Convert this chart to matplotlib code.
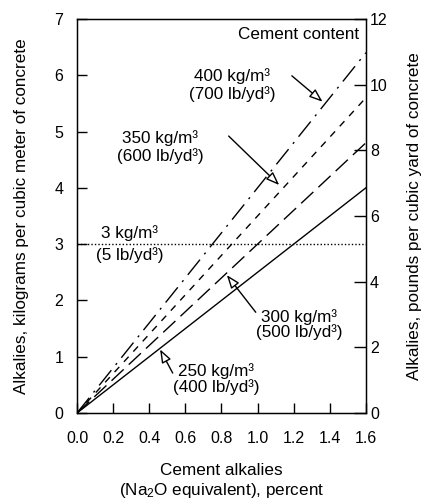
import matplotlib
matplotlib.use("Agg")
import matplotlib.pyplot as plt
import numpy as np

plt.rcParams['font.family'] = ['Liberation Sans', 'DejaVu Sans']
plt.rcParams['mathtext.fontset'] = 'custom'
plt.rcParams['mathtext.rm'] = 'Liberation Sans'
plt.rcParams['mathtext.it'] = 'Liberation Sans'

# data
alkali_pct = [0.0, 1.6]
cement_contents = [250, 300, 350, 400]          # kg/m3
threshold = 3.0                                  # kg/m3
x_ticks = [0.0, 0.2, 0.4, 0.6, 0.8, 1.0, 1.2, 1.4, 1.6]
y_left_ticks = [0, 1, 2, 3, 4, 5, 6, 7]
y_right_ticks = [0, 2, 4, 6, 8, 10, 12]

fig = plt.figure(figsize=(4.22, 4.99), dpi=100)
ax = fig.add_axes([0.1825, 0.1723, 0.867 - 0.1825, 0.962 - 0.1723])

styles = {
    250: dict(linestyle='-'),
    300: dict(dashes=(12, 5)),
    350: dict(dashes=(5, 5)),
    400: dict(dashes=(14, 5, 1.5, 5)),
}
xs = np.array(alkali_pct)
for c in cement_contents:
    ax.plot(xs, xs * c / 100.0, color='black', lw=1.0, **styles[c])

ax.plot(alkali_pct, [threshold, threshold], color='black', lw=1.0, linestyle=(0, (1, 1.5)))

ax.set_xlim(0, 1.6)
ax.set_ylim(0, 7)
ax.set_xticks(x_ticks)
ax.set_xticklabels([f"{t:.1f}" for t in x_ticks])
ax.set_yticks(y_left_ticks)
ax.tick_params(axis='x', direction='in', length=7, width=1, labelsize=11.5, pad=13, top=False)
ax.tick_params(axis='y', direction='in', length=7, width=1, labelsize=11.5, pad=10, right=False)
for s in ax.spines.values():
    s.set_linewidth(1.0)

ax2 = ax.twinx()
ax2.set_ylim(0, 12)
ax2.set_yticks(y_right_ticks)
ax2.tick_params(axis='y', direction='in', length=9, width=1, labelsize=11.5, pad=3)

lfs = 12.3
ax.set_ylabel("Alkalies, kilograms per cubic meter of concrete", fontsize=lfs, labelpad=18)
ax2.set_ylabel("Alkalies, pounds per cubic yard of concrete", fontsize=lfs, labelpad=14)
ax.set_xlabel("Cement alkalies\n(Na$_2$O equivalent), percent", fontsize=lfs, labelpad=12,
              linespacing=1.2)

fs = 12.3
ax.text(1.56, 6.72, "Cement content", fontsize=fs, ha='right', va='center')

def label(x, y, text, ls):
    ax.text(x, y, text, fontsize=fs, ha='center', va='center', linespacing=ls,
            multialignment='center')

label(0.86, 5.83, "400 kg/m³\n(700 lb/yd³)", 1.18)
label(0.46, 4.73, "350 kg/m³\n(600 lb/yd³)", 1.18)
label(0.29, 3.0, "3 kg/m³\n(5 lb/yd³)", 1.45)
label(1.23, 1.57, "300 kg/m³\n(500 lb/yd³)", 0.95)
label(0.77, 0.61, "250 kg/m³\n(400 lb/yd³)", 1.0)

arrow = dict(arrowstyle='-|>,head_length=0.8,head_width=0.3', fc='white', ec='black', lw=1.0,
             shrinkA=0, shrinkB=0)
ax.annotate("", xy=(1.36, 5.53), xytext=(1.19, 5.99), arrowprops=arrow)
ax.annotate("", xy=(1.12, 4.05), xytext=(0.84, 4.92), arrowprops=arrow)
ax.annotate("", xy=(0.83, 2.45), xytext=(0.99, 1.79), arrowprops=arrow)
ax.annotate("", xy=(0.46, 1.13), xytext=(0.53, 0.71), arrowprops=arrow)

fig.savefig("out.png", dpi=100)
